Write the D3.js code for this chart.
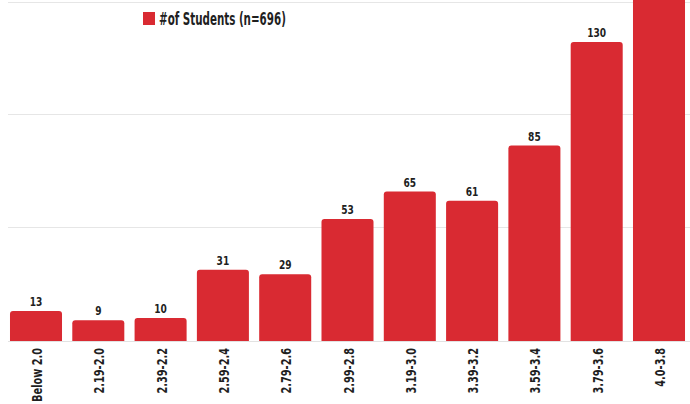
<!DOCTYPE html>
<html>
<head>
<meta charset="utf-8">
<script src="https://cdn.jsdelivr.net/npm/d3@7"></script>
<style>
  html, body { margin: 0; padding: 0; background: #ffffff; }
  svg { display: block; }
  text { font-family: "DejaVu Sans Condensed", "Liberation Sans", sans-serif; fill: #1f1f1f; }
</style>
</head>
<body>
<svg id="chart" width="690" height="404"></svg>
<script>
const categories = ["Below 2.0", "2.19-2.0", "2.39-2.2", "2.59-2.4", "2.79-2.6", "2.99-2.8", "3.19-3.0", "3.39-3.2", "3.59-3.4", "3.79-3.6", "4.0-3.8"];
const students = [13, 9, 10, 31, 29, 53, 65, 61, 85, 130, 210];
const gridTicks = [49.5, 98.5, 147.5];
const seriesName = "#of Students (n=696)";

const W = 690, H = 404;
const baseY = 341;
const svg = d3.select("#chart");

const x = d3.scaleBand()
  .domain(categories)
  .range([4.85, 690.15])
  .paddingInner(0.165)
  .paddingOuter(0.0825);

const pxPerUnit = 2.30;
const y = d3.scaleLinear()
  .domain([0, 1])
  .range([baseY, baseY - pxPerUnit]);

// gridlines
svg.append("g").selectAll("line")
  .data(gridTicks)
  .join("line")
  .attr("x1", 8).attr("x2", W)
  .attr("y1", d => Math.round(y(d)) + 0.5)
  .attr("y2", d => Math.round(y(d)) + 0.5)
  .attr("stroke", "#e6e6e6")
  .attr("stroke-width", 1);

// baseline
svg.append("line")
  .attr("x1", 8).attr("x2", W)
  .attr("y1", baseY + 0.5).attr("y2", baseY + 0.5)
  .attr("stroke", "#e2e2e2");

const r = 3;
function barPath(d, i) {
  const x0 = x(categories[i]);
  const w = x.bandwidth();
  const yt = y(d);
  const yb = baseY;
  return `M${x0},${yb} L${x0},${yt + r} Q${x0},${yt} ${x0 + r},${yt} L${x0 + w - r},${yt} Q${x0 + w},${yt} ${x0 + w},${yt + r} L${x0 + w},${yb} Z`;
}

svg.append("g").selectAll("path")
  .data(students)
  .join("path")
  .attr("d", (d, i) => barPath(d, i))
  .attr("fill", "#d92a32");

// helper: condense text horizontally so a sample string reaches a target width
function condenseFactor(sample, size, weight, target) {
  const t = svg.append("text").attr("font-size", size).attr("font-weight", weight).text(sample);
  const len = t.node().getComputedTextLength();
  t.remove();
  return target / len;
}

// value labels (only those inside the visible area)
const vf = condenseFactor("130", 12, "bold", 19);
svg.append("g").selectAll("text")
  .data(students.map((v, i) => ({ v, c: categories[i] })).filter(d => y(d.v) > 20))
  .join("text")
  .attr("transform", d => `translate(${x(d.c) + x.bandwidth() / 2},${y(d.v) - 5}) scale(${vf},1)`)
  .attr("text-anchor", "middle")
  .attr("font-size", 12)
  .attr("font-weight", "bold")
  .text(d => d.v);

// category labels (rotated)
const cf = condenseFactor("Below 2.0", 14, "bold", 54);
const xAxis = d3.axisBottom(x).tickSize(0).tickPadding(0);
const gx = svg.append("g").attr("transform", `translate(0,${baseY})`).call(xAxis);
gx.select(".domain").remove();
gx.selectAll("text")
  .attr("font-family", "\"DejaVu Sans Condensed\", sans-serif")
  .attr("font-size", 14)
  .attr("font-weight", "bold")
  .attr("fill", "#1f1f1f")
  .attr("text-anchor", "end")
  .attr("dy", null)
  .attr("y", 0)
  .attr("transform", `translate(6,7) rotate(-90) scale(${cf},1)`);

// legend
const lf = condenseFactor(seriesName, 18, "bold", 127);
const lg = svg.append("g");
lg.append("rect").attr("x", 143).attr("y", 12).attr("width", 12).attr("height", 13).attr("fill", "#d92a32");
lg.append("text")
  .attr("transform", `translate(159,25) scale(${lf},1)`)
  .attr("font-size", 18)
  .attr("font-weight", "bold")
  .text(seriesName);
</script>
</body>
</html>
